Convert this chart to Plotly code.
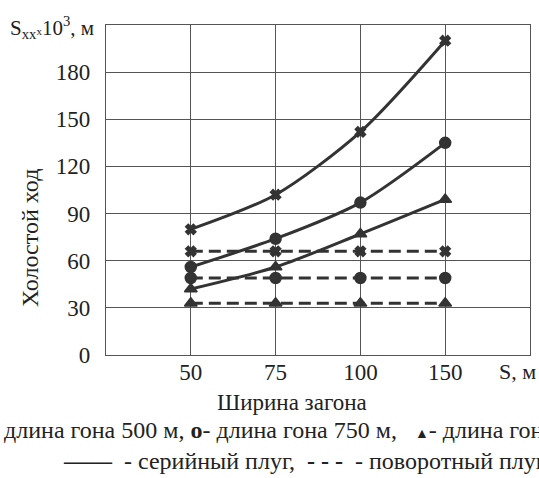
import plotly.graph_objects as go

categories = ["50", "75", "100", "150"]
x_pos = [1, 2, 3, 4]

serial_500 = [80, 102, 142, 200]
serial_750 = [56, 74, 97, 135]
serial_1000 = [42, 56, 77, 99]
turn_500 = [66, 66, 66, 66]
turn_750 = [49, 49, 49, 49]
turn_1000 = [33, 33, 33, 33]

y_ticks = [0, 30, 60, 90, 120, 150, 180]

C = "#333333"
FONT = "Liberation Serif, Times New Roman, serif"

fig = go.Figure()

def add(y, symbol, dash, size):
    fig.add_trace(go.Scatter(
        x=x_pos, y=y, mode="lines+markers",
        line=dict(color=C, width=3, dash=dash, shape="spline" if dash == "solid" else "linear", smoothing=0.8),
        marker=dict(symbol=symbol, size=size, color=C, line=dict(color=C, width=1.5)),
        showlegend=False, cliponaxis=False,
    ))

DASH = "12px,6px"
add(turn_500, "x", DASH, 9)
add(turn_750, "circle", DASH, 11)
add(turn_1000, "triangle-up", DASH, 11)
add(serial_500, "x", "solid", 9)
add(serial_750, "circle", "solid", 11)
add(serial_1000, "triangle-up", "solid", 11)

axis_common = dict(showline=True, linecolor="#555", linewidth=1.2, mirror=True,
                   showgrid=True, gridcolor="#555", gridwidth=1, zeroline=False,
                   ticks="", tickfont=dict(family=FONT, size=23, color="#222"))

fig.update_xaxes(range=[0, 5], tickvals=x_pos, ticktext=categories, ticklabelstandoff=-4, **axis_common)
fig.update_yaxes(range=[0, 210], tickvals=y_ticks, ticklabelstandoff=10, **axis_common)

annotations = [
    dict(text="S<sub>xx</sub><span style='font-size:11px'>x</span>10<sup>3</sup>, м",
         x=96, y=27, xanchor="right", yanchor="middle", font_size=21),
    dict(text="Холостой ход", x=30, y=238, textangle=-90, xanchor="center", yanchor="middle", font_size=24),
    dict(text="S, м", x=538, y=371, xanchor="right", yanchor="middle", font_size=22),
    dict(text="Ширина загона", x=292, y=402, xanchor="center", yanchor="middle", font_size=23),
    dict(text="длина гона 500 м, <b>o</b>- длина гона 750 м,   <span style='font-size:14px'>▲</span>- длина гона 1000 м",
         x=2, y=430, xanchor="left", yanchor="middle", font_size=24),
    dict(text="<b>——</b>  - серийный плуг,  <b>- - -</b>  - поворотный плуг",
         x=61, y=461, xanchor="left", yanchor="middle", font_size=24),
]

L, R, T, B = 106, 530, 25, 355
for a in annotations:
    a["x"] = (a["x"] - L) / (R - L)
    a["y"] = (B - a["y"]) / (B - T)
    a["xref"] = "paper"
    a["yref"] = "paper"
    a["showarrow"] = False
    a["font"] = dict(family=FONT, size=a.pop("font_size"), color="#222")
    fig.add_annotation(**a)

fig.update_layout(
    width=539, height=478,
    margin=dict(l=L, r=539 - R, t=T, b=478 - B),
    plot_bgcolor="white", paper_bgcolor="white",
    font=dict(family=FONT, color="#222"),
)

fig.write_html("out.html", config={"displayModeBar": False},
               post_script="document.body.style.margin='0';document.body.style.overflow='hidden';")
